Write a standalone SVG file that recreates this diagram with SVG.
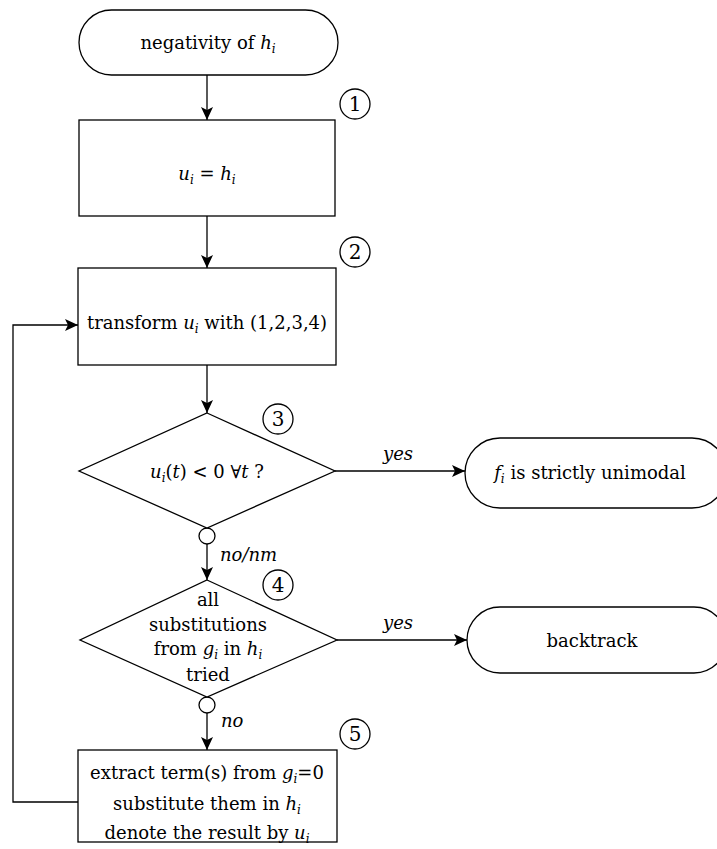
<svg xmlns="http://www.w3.org/2000/svg" width="717" height="849" viewBox="0 0 717 849" font-family="'DejaVu Serif', serif">
<defs>
<style>
.s{fill:#fff;stroke:#000;stroke-width:1.3}
.l{fill:none;stroke:#000;stroke-width:1.3}
text{font-family:'DejaVu Serif',serif;font-size:18px;fill:#000}
.c{text-anchor:middle}
.m{font-style:italic}
.sb{font-size:12px;font-style:italic}
.n{font-size:20px}
</style>
<marker id="a" viewBox="0 0 13 12" refX="13" refY="6" markerWidth="13" markerHeight="12" markerUnits="userSpaceOnUse" orient="auto">
<path d="M0,0 L13,6 L0,12 L3,6 Z" fill="#000"/>
</marker>
</defs>
<g id="connectors">
<line class="l" x1="207" y1="75" x2="207" y2="120" marker-end="url(#a)"/>
<line class="l" x1="207" y1="216" x2="207" y2="268" marker-end="url(#a)"/>
<line class="l" x1="207" y1="365" x2="207" y2="413" marker-end="url(#a)"/>
<line class="l" x1="207" y1="544" x2="207" y2="580" marker-end="url(#a)"/>
<line class="l" x1="207" y1="713" x2="207" y2="750" marker-end="url(#a)"/>
<line class="l" x1="335" y1="471" x2="465" y2="471" marker-end="url(#a)"/>
<line class="l" x1="337" y1="640" x2="467" y2="640" marker-end="url(#a)"/>
<polyline class="l" points="78,802 13,802 13,325 78,325" marker-end="url(#a)"/>
<circle class="s" cx="207" cy="536" r="8"/>
<circle class="s" cx="207" cy="705" r="8"/>
<text class="m" x="220" y="561">no/nm</text>
<text class="m" x="221" y="727">no</text>
<text class="m c" x="398" y="460">yes</text>
<text class="m c" x="398" y="629">yes</text>
</g>
<g id="start">
<rect class="s" x="79" y="10" width="259" height="65" rx="32.5"/>
<text class="c" x="208" y="49">negativity of <tspan class="m">h</tspan><tspan class="sb" dy="4">i</tspan></text>
</g>
<g id="step1">
<rect class="s" x="79" y="120" width="256" height="96"/>
<text class="c" x="207" y="180"><tspan class="m">u</tspan><tspan class="sb" dy="4">i</tspan><tspan dy="-4"> = </tspan><tspan class="m">h</tspan><tspan class="sb" dy="4">i</tspan></text>
<circle class="s" cx="355" cy="104" r="15"/>
<text class="c n" x="355" y="111">1</text>
</g>
<g id="step2">
<rect class="s" x="78" y="268" width="258" height="97"/>
<text class="c" x="207" y="329">transform <tspan class="m">u</tspan><tspan class="sb" dy="4">i</tspan><tspan dy="-4"> with (1,2,3,4)</tspan></text>
<circle class="s" cx="355" cy="252" r="15"/>
<text class="c n" x="355" y="259">2</text>
</g>
<g id="step3">
<polygon class="s" points="207,413 335,471 207,528 79,471"/>
<text class="c" x="207" y="478"><tspan class="m">u</tspan><tspan class="sb" dy="4">i</tspan><tspan dy="-4">(</tspan><tspan class="m">t</tspan>) &lt; 0 ∀<tspan class="m">t</tspan> ?</text>
<circle class="s" cx="278" cy="419" r="15"/>
<text class="c n" x="278" y="426">3</text>
</g>
<g id="unimodal">
<rect class="s" x="465" y="438" width="262" height="70" rx="35"/>
<text class="c" x="590" y="479"><tspan class="m">f</tspan><tspan class="sb" dy="4">i</tspan><tspan dy="-4"> is strictly unimodal</tspan></text>
</g>
<g id="step4">
<polygon class="s" points="207,580 337,640 207,697 80,640"/>
<text class="c" x="208" y="606">all</text>
<text class="c" x="208" y="631">substitutions</text>
<text class="c" x="208" y="655">from <tspan class="m">g</tspan><tspan class="sb" dy="4">i</tspan><tspan dy="-4"> in </tspan><tspan class="m">h</tspan><tspan class="sb" dy="4">i</tspan></text>
<text class="c" x="208" y="681">tried</text>
<circle class="s" cx="278" cy="585" r="15"/>
<text class="c n" x="278" y="592">4</text>
</g>
<g id="backtrack">
<rect class="s" x="467" y="607" width="260" height="66" rx="33"/>
<text class="c" x="592" y="647">backtrack</text>
</g>
<g id="step5">
<rect class="s" x="78" y="750" width="259" height="92"/>
<text class="c" x="207" y="779">extract term(s) from <tspan class="m">g</tspan><tspan class="sb" dy="4">i</tspan><tspan dy="-4">=0</tspan></text>
<text class="c" x="207" y="810">substitute them in <tspan class="m">h</tspan><tspan class="sb" dy="4">i</tspan></text>
<text class="c" x="207" y="839">denote the result by <tspan class="m">u</tspan><tspan class="sb" dy="4">i</tspan></text>
<circle class="s" cx="355" cy="734" r="15"/>
<text class="c n" x="355" y="741">5</text>
</g>
</svg>
